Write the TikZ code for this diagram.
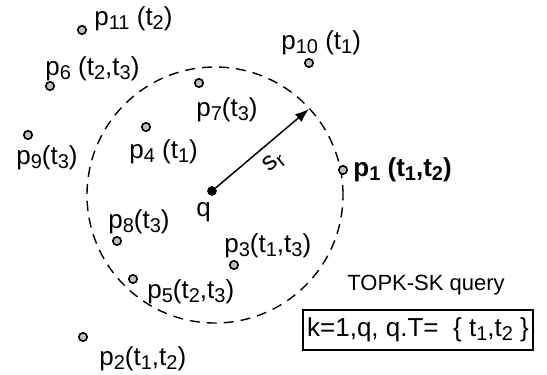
\documentclass[tikz,border=0pt]{standalone}
\usepackage{fontspec}
\setmainfont{Liberation Sans}
\usetikzlibrary{arrows.meta,positioning}

\newcommand{\sbs}[1]{\raisebox{-1.9pt}{\fontsize{10}{11}\selectfont#1}}

\begin{document}
\begin{tikzpicture}[
  x=0.5pt,y=-0.5pt,
  poi/.style={draw,circle,fill=gray!50,line width=.8pt,minimum size=4.2pt,inner sep=0pt},
  qry/.style={draw,circle,fill=black,minimum size=4.4pt,inner sep=0pt},
  lbl/.style={anchor=west,inner sep=0pt,font=\fontsize{13}{15}\selectfont}
]
  \useasboundingbox (0,0) rectangle (547,375);

  % search range
  \coordinate (c) at (215,195);
  \draw[line width=.7pt,dash pattern=on 5pt off 3.5pt] (c) circle[radius=64pt];

  % query point and range
  \node[qry] (q) at (212,191) {};
  \node[lbl] (ql) at (196,212) {q};
  \coordinate (rim) at (309,109);
  \draw[line width=.75pt,-{Latex[length=7pt,width=5pt]}] (q) -- node[sloped,below=1pt,font=\fontsize{13}{15}\selectfont] {s\sbs{r}} (rim);

  % objects
  \node[poi] (p1) at (343,170) {};
  \node[poi] (p2) at (83,337) {};
  \node[poi] (p3) at (234,265) {};
  \node[poi] (p4) at (146,127) {};
  \node[poi] (p5) at (133,279) {};
  \node[poi] (p6) at (50,86) {};
  \node[poi] (p7) at (199,83) {};
  \node[poi] (p8) at (117,241) {};
  \node[poi] (p9) at (28,135) {};
  \node[poi] (p10) at (309,63) {};
  \node[poi] (p11) at (82,30) {};

  \node[lbl,font=\fontsize{13}{15}\selectfont\bfseries,right=2.5pt of p1] (l1) {p\sbs{1} (t\sbs{1},t\sbs{2})};
  \node[lbl] (l2) at (99,359) {p\sbs{2}(t\sbs{1},t\sbs{2})};
  \node[lbl] (l3) at (224,246) {p\sbs{3}(t\sbs{1},t\sbs{3})};
  \node[lbl] (l4) at (129,152) {p\sbs{4} (t\sbs{1})};
  \node[lbl] (l5) at (147,292) {p\sbs{5}(t\sbs{2},t\sbs{3})};
  \node[lbl] (l6) at (45,69) {p\sbs{6} (t\sbs{2},t\sbs{3})};
  \node[lbl] (l7) at (196,110) {p\sbs{7}(t\sbs{3})};
  \node[lbl] (l8) at (108,222) {p\sbs{8}(t\sbs{3})};
  \node[lbl] (l9) at (16,158) {p\sbs{9}(t\sbs{3})};
  \node[lbl] (l10) at (281,43) {p\sbs{10} (t\sbs{1})};
  \node[lbl] (l11) at (94,19) {p\sbs{11} (t\sbs{2})};

  % query box
  \node[draw,line width=.75pt,minimum width=115pt,minimum height=20pt,inner sep=1pt,
        font=\fontsize{13}{15}\selectfont] (box) at (418,330)
        {k=1,q, q.T=\ \ \{ t\sbs{1},t\sbs{2} \}};
  \node[font=\fontsize{11}{13}\selectfont,inner sep=0pt] (title) at (426,285) {TOPK-SK query};
\end{tikzpicture}
\end{document}
